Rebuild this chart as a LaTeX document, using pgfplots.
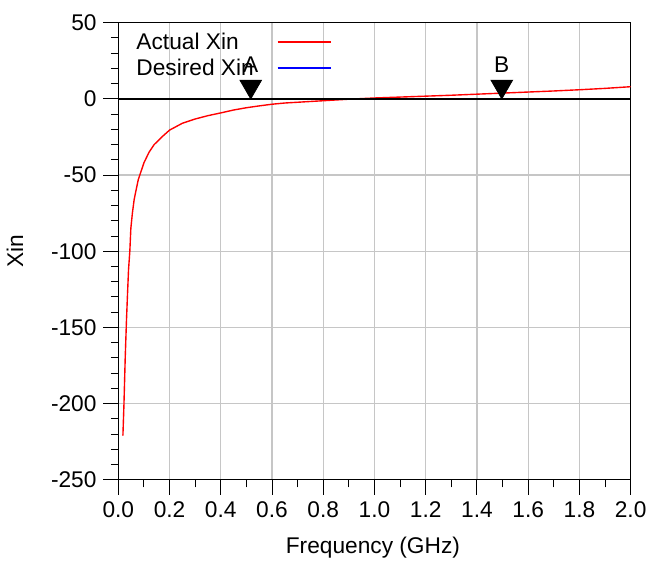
\documentclass[border=0pt]{standalone}
\usepackage{fontspec}
\setmainfont{Liberation Sans}
\usepackage{pgfplots}
\pgfplotsset{compat=1.18}
\begin{document}
\begin{tikzpicture}
\begin{axis}[
  scale only axis, width=259.5pt, height=231.5pt,
  xmin=0, xmax=2, ymin=-250, ymax=50,
  xtick={0,0.2,0.4,0.6,0.8,1.0,1.2,1.4,1.6,1.8,2.0},
  ytick={-250,-200,-150,-100,-50,0,50},
  minor x tick num=1, minor y tick num=4,
  xticklabel style={/pgf/number format/.cd, fixed, fixed zerofill, precision=1},
  /pgf/number format/assume math mode=true,
  tick align=outside, xtick pos=bottom, ytick pos=left,
  major tick length=7.5pt, minor tick length=3.8pt,
  every tick/.style={black, line width=0.5pt},
  grid=major, major grid style={gray!45, line width=0.6pt},
  axis line style={line width=0.7pt},
  font=\fontsize{11.5}{13}\selectfont,
  tick label style={font=\fontsize{11.5}{13}\selectfont},
  xlabel={Frequency (GHz)}, ylabel={Xin},
  xlabel style={at={(axis description cs:0.497,-0.149)}, anchor=center},
  ylabel style={at={(axis description cs:-0.202,0.5)}, anchor=center},
  legend style={draw=none, fill=none, at={(axis description cs:0.0347,0.978)}, anchor=north west,
    font=\fontsize{11.5}{13}\selectfont, inner sep=0pt,
    nodes={inner sep=0pt, text height=8.5pt, text depth=2.5pt}, row sep=2pt, column sep=11.5pt},
  legend cell align=left, legend plot pos=right,
  legend image code/.code={\draw[#1] (0pt,1pt) -- (27pt,1pt);},
]
\coordinate (bbl) at (axis description cs:-0.2293,-0.1771);
\coordinate (btr) at (axis description cs:1.0289,1.0497);

\addlegendimage{red, line width=1pt}
\addlegendentry{Actual Xin}
\addlegendimage{blue, line width=1pt}
\addlegendentry{Desired Xin}

\addplot[red, line width=0.7pt, forget plot] coordinates {
(0.018,-221) (0.022,-201) (0.027,-170) (0.032,-145) (0.036,-128) (0.040,-112)
(0.045,-100) (0.049,-85) (0.055,-75) (0.062,-66) (0.068,-61) (0.078,-53)
(0.088,-48) (0.10,-42) (0.12,-35) (0.14,-30) (0.17,-25) (0.20,-20.5)
(0.25,-16) (0.30,-13.2) (0.35,-11) (0.40,-9.2) (0.45,-7.3) (0.50,-5.8)
(0.55,-4.6) (0.60,-3.5) (0.65,-2.7) (0.70,-2.2) (0.75,-1.7) (0.80,-1.2)
(0.85,-0.7) (0.90,-0.2) (0.95,0.2) (1.00,0.6) (1.10,1.2) (1.20,1.8)
(1.30,2.4) (1.40,3.1) (1.50,3.8) (1.60,4.5) (1.70,5.2) (1.80,6.0)
(1.90,6.9) (2.00,8.0)
};

\addplot[black, line width=0.8pt, forget plot] coordinates {(0,0) (2,0)};

\addplot[only marks, mark=triangle*, mark size=6.3pt,
  mark options={draw=black, fill=black, yshift=6.3pt, rotate=180},
  nodes near coords={A},
  every node near coord/.append style={anchor=center, yshift=11pt, black, font=\fontsize{11.5}{13}\selectfont},
  forget plot] coordinates {(0.517,0)};
\addplot[only marks, mark=triangle*, mark size=6.3pt,
  mark options={draw=black, fill=black, yshift=6.3pt, rotate=180},
  nodes near coords={B},
  every node near coord/.append style={anchor=center, yshift=11pt, black, font=\fontsize{11.5}{13}\selectfont},
  forget plot] coordinates {(1.497,0)};
\end{axis}
\path (bbl) rectangle (btr);
\end{tikzpicture}
\end{document}
